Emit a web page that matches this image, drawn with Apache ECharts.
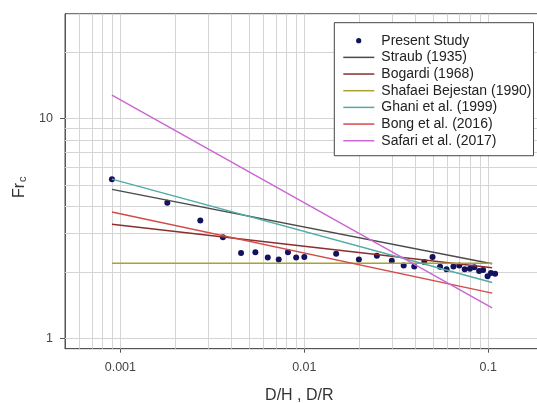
<!DOCTYPE html>
<html><head><meta charset="utf-8">
<script src="https://cdn.jsdelivr.net/npm/echarts@6/dist/echarts.min.js"></script>
<style>html,body{margin:0;padding:0;background:#fff}#c{width:537px;height:403px}</style>
</head><body><div id="c"></div>
<script>
// Present study data points (D/H or D/R, Fr_c)
const studyX = [0.0009, 0.0018, 0.00272, 0.00361, 0.00453, 0.00542, 0.00633, 0.00726, 0.00815, 0.00903, 0.0100,
  0.0149, 0.0198, 0.0248, 0.0299, 0.0347, 0.0396, 0.0449, 0.0498, 0.0547, 0.0593, 0.0647, 0.0696, 0.0745,
  0.0795, 0.0840, 0.0892, 0.0938, 0.0992, 0.1035, 0.109];
const studyY = [5.30, 4.15, 3.44, 2.89, 2.45, 2.47, 2.34, 2.29, 2.47, 2.34, 2.35,
  2.43, 2.29, 2.38, 2.26, 2.15, 2.13, 2.23, 2.35, 2.12, 2.07, 2.13, 2.15, 2.07,
  2.08, 2.11, 2.03, 2.05, 1.92, 1.99, 1.97];
// Empirical relations (power laws -> straight lines on log-log), end points
const curveX = [0.0009, 0.105];
const straubY = [4.77, 2.19];
const bogardiY = [3.31, 2.10];
const shafaeiY = [2.20, 2.20];
const ghaniY = [5.31, 1.80];
const bongY = [3.76, 1.61];
const safariY = [12.8, 1.38];
// Axis ticks / grid
const xTickLabels = [0.001, 0.01, 0.1];
const yTickLabels = [1, 10];
const xGridValues = [0.0006, 0.0007, 0.0008, 0.0009, 0.001, 0.002, 0.003, 0.004, 0.005, 0.006, 0.007, 0.008, 0.009,
  0.01, 0.02, 0.03, 0.04, 0.05, 0.06, 0.07, 0.08, 0.09, 0.1];
const yGridValues = [1, 2, 3, 4, 5, 6, 7, 8, 9, 10, 20];
const xRange = [0.0005, 0.2];
const yRange = [0.9, 30];
const seriesNames = ['Present Study', 'Straub (1935)', 'Bogardi (1968)', 'Shafaei Bejestan (1990)',
  'Ghani et al. (1999)', 'Bong et al. (2016)', 'Safari et al. (2017)'];

const zip = (xs, ys) => xs.map((x, i) => [x, ys[i]]);
const font = 'Liberation Sans, Arial, sans-serif';

const chart = echarts.init(document.getElementById('c'), null, {renderer: 'canvas'});

const gridLines = [];
xGridValues.forEach(v => gridLines.push({coords: [[v, yRange[0]], [v, yRange[1]]]}));
yGridValues.forEach(v => gridLines.push({coords: [[xRange[0], v], [xRange[1], v]]}));

const lineIcon = 'path://M0,0L0,0M31,14L31,14M0,6.25L31,6.25L31,7.75L0,7.75Z';
const dotIcon = 'path://M0,0L0,0M31,14L31,14M18,7A2.6,2.6,0,1,1,12.8,7A2.6,2.6,0,1,1,18,7Z';

function lineSeries(name, ys, color) {
  return {
    name, type: 'line', data: zip(curveX, ys), symbol: 'none', z: 3,
    lineStyle: {color, width: 1.5}, itemStyle: {color}, animation: false, silent: true
  };
}

chart.setOption({
  animation: false,
  backgroundColor: '#fff',
  grid: {left: 65, top: 13.7, width: 478.6, height: 335, show: true, borderColor: '#555', borderWidth: 1,
    containLabel: false, outerBoundsMode: 'none'},
  legend: {
    orient: 'vertical', left: 334.3, top: 22.7,
    padding: [11, 2, 8, 9], itemGap: 2.67, itemWidth: 31, itemHeight: 14,
    backgroundColor: '#fff', borderColor: '#444', borderWidth: 1, borderRadius: 0,
    textStyle: {fontFamily: font, fontSize: 14, color: '#222', padding: [0, 0, 0, 2]},
    data: [{name: seriesNames[0], icon: dotIcon}].concat(
      seriesNames.slice(1).map(n => ({name: n, icon: lineIcon})))
  },
  xAxis: {
    type: 'log', logBase: 10, min: xRange[0], max: xRange[1],
    name: 'D/H , D/R', nameLocation: 'middle', nameGap: 39,
    nameTextStyle: {fontFamily: font, fontSize: 16, color: '#333', padding: [0, 10, 0, 0]},
    axisLine: {show: true, lineStyle: {color: '#555', width: 1}},
    axisTick: {show: true, length: 4, customValues: xTickLabels, lineStyle: {color: '#555'}},
    axisLabel: {customValues: xTickLabels, margin: 12, fontFamily: font, fontSize: 12.5, color: '#444',
      formatter: v => String(+(+v).toPrecision(3))},
    splitLine: {show: false}, minorTick: {show: false}, minorSplitLine: {show: false}
  },
  yAxis: {
    type: 'log', logBase: 10, min: yRange[0], max: yRange[1],
    name: '{a|Fr}{b|c}', nameLocation: 'middle', nameGap: 36, nameRotate: 90,
    nameTextStyle: {padding: [0, 12, 0, 0],
      rich: {a: {fontFamily: font, fontSize: 16, color: '#333'},
             b: {fontFamily: font, fontSize: 11, color: '#333', padding: [7, 0, 0, 1]}}},
    axisLine: {show: true, lineStyle: {color: '#555', width: 1}},
    axisTick: {show: true, length: 5, customValues: yTickLabels, lineStyle: {color: '#555'}},
    axisLabel: {customValues: yTickLabels, margin: 12, fontFamily: font, fontSize: 12.5, color: '#444',
      formatter: v => String(+(+v).toPrecision(3))},
    splitLine: {show: false}, minorTick: {show: false}, minorSplitLine: {show: false}
  },
  series: [
    {
      name: 'grid', type: 'lines', coordinateSystem: 'cartesian2d', silent: true, z: 1,
      lineStyle: {color: '#d4d4d4', width: 1, type: 'solid', opacity: 1},
      data: gridLines, animation: false
    },
    {
      name: seriesNames[0], type: 'scatter', data: zip(studyX, studyY), symbol: 'circle', symbolSize: 6,
      itemStyle: {color: '#12125e', opacity: 1}, z: 2, silent: true
    },
    lineSeries(seriesNames[1], straubY, '#4a4a4a'),
    lineSeries(seriesNames[2], bogardiY, '#8b2e2e'),
    lineSeries(seriesNames[3], shafaeiY, '#aba032'),
    lineSeries(seriesNames[4], ghaniY, '#52aaa8'),
    lineSeries(seriesNames[5], bongY, '#d24b48'),
    lineSeries(seriesNames[6], safariY, '#cc66d4')
  ]
});
</script></body></html>
